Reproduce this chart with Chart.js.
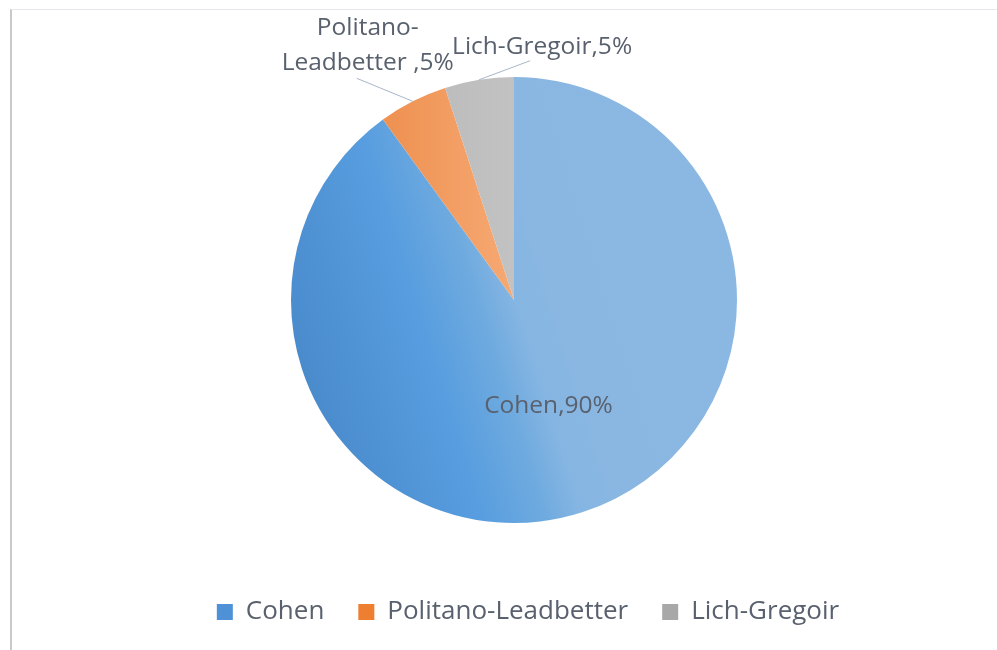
<!DOCTYPE html>
<html>
<head>
<meta charset="utf-8">
<script src="https://cdn.jsdelivr.net/npm/chart.js@4.4.0/dist/chart.umd.min.js"></script>
<style>
    html, body { margin: 0; padding: 0; background: #fff; }
    .frame {
        position: absolute; left: 10px; top: 9px; width: 987px; height: 641px;
        border-left: 2px solid #c9c9cc; border-top: 1px solid #e6e8ee; box-sizing: border-box;
    }
    .chart-box { position: absolute; left: 12px; top: 10px; width: 985px; height: 640px; }
</style>
</head>
<body>
<div class="frame"></div>
<div class="chart-box"><canvas id="pieChart"></canvas></div>
<script>
// Data
const categories = ['Cohen', 'Politano-Leadbetter', 'Lich-Gregoir'];
const shares = [90, 5, 5];
const labelNames = [['Cohen'], ['Politano-', 'Leadbetter '], ['Lich-Gregoir']];

const textColor = '#59616e';
const fontFamily = "'Open Sans', 'Noto Sans', sans-serif";
const pieRadius = 223;

// slice fills (slanted gradient, dark at left) and flat legend swatches
const sliceStops = [
    [[0, '#4a8bcc'], [0.28, '#579ddf'], [0.42, '#6eaadf'], [0.5, '#85b5e2'], [0.6, '#8ab7e2'], [1, '#8bb8e3']],
    [[0, '#ee9050'], [1, '#f6a973']],
    [[0, '#b8b8b8'], [1, '#c2c2c2']]
];
const swatchColors = ['#4f91d7', '#ef7f30', '#a8a8a8'];
const gradDir = [0.955, -0.297];

function sliceFill(context) {
    const chart = context.chart;
    const area = chart.chartArea;
    if (!area) return swatchColors[context.dataIndex];
    const cx = (area.left + area.right) / 2;
    const cy = (area.top + area.bottom) / 2;
    let g;
    if (context.dataIndex === 0) {
        const dx = gradDir[0] * pieRadius, dy = gradDir[1] * pieRadius;
        g = chart.ctx.createLinearGradient(cx - dx, cy - dy, cx + dx, cy + dy);
    } else {
        // small slices near the top: gradient over their own width
        g = chart.ctx.createLinearGradient(cx - pieRadius * 0.6, 0, cx, 0);
    }
    sliceStops[context.dataIndex].forEach(s => g.addColorStop(s[0], s[1]));
    return g;
}

// label placement: inside slice at fraction of radius, or offset from arc midpoint
const labelPlacement = [
    { inside: true, r: 0.5 },
    { dx: -45, dy: -73, lineGap: 35, line: [-56, -23] },
    { dx: 63, dy: -33, lineGap: 35, line: [51, -19] }
];

const sliceLabels = {
    id: 'sliceLabels',
    afterDatasetsDraw(chart) {
        const ctx = chart.ctx;
        const total = shares.reduce((a, b) => a + b, 0);
        ctx.save();
        ctx.font = "24.5px " + fontFamily;
        ctx.textAlign = 'center';
        ctx.textBaseline = 'middle';
        chart.getDatasetMeta(0).data.forEach((arc, i) => {
            const mid = (arc.startAngle + arc.endAngle) / 2;
            const pct = Math.round(shares[i] / total * 100) + '%';
            const lines = labelNames[i].slice();
            lines[lines.length - 1] += ',' + pct;
            const p = labelPlacement[i];
            if (p.inside) {
                const r = arc.outerRadius * p.r;
                ctx.fillStyle = textColor;
                ctx.fillText(lines[0], arc.x + Math.cos(mid) * r, arc.y + Math.sin(mid) * r);
                return;
            }
            const ex = arc.x + Math.cos(mid) * arc.outerRadius;
            const ey = arc.y + Math.sin(mid) * arc.outerRadius;
            ctx.strokeStyle = '#a9b6c8';
            ctx.lineWidth = 1;
            ctx.beginPath();
            ctx.moveTo(ex, ey);
            ctx.lineTo(ex + p.line[0], ey + p.line[1]);
            ctx.stroke();
            ctx.fillStyle = textColor;
            lines.forEach((t, k) => {
                ctx.fillText(t, ex + p.dx, ey + p.dy + k * p.lineGap);
            });
        });
        ctx.restore();
    }
};

const ctx = document.getElementById('pieChart').getContext('2d');
new Chart(ctx, {
    type: 'pie',
    data: {
        labels: categories,
        datasets: [{
            data: shares,
            backgroundColor: sliceFill,
            borderWidth: 0,
            radius: pieRadius
        }]
    },
    options: {
        responsive: true,
        maintainAspectRatio: false,
        animation: false,
        layout: {
            padding: { top: 25, bottom: 15, left: 47, right: 0 }
        },
        plugins: {
            // empty spacer on the right so the legend sits a little right of the pie centre
            title: {
                display: true,
                position: 'right',
                fullSize: false,
                text: ' ',
                font: { size: 8, lineHeight: 1 },
                padding: { top: 10, bottom: 10 }
            },
            legend: {
                position: 'bottom',
                labels: {
                    color: textColor,
                    font: { family: fontFamily, size: 26 },
                    boxWidth: 16,
                    boxHeight: 16,
                    padding: 34,
                    generateLabels: function(chart) {
                        return categories.map((c, i) => ({
                            text: c,
                            fillStyle: swatchColors[i],
                            strokeStyle: swatchColors[i],
                            lineWidth: 0,
                            fontColor: textColor,
                            index: i
                        }));
                    }
                }
            },
            tooltip: { enabled: false }
        }
    },
    plugins: [sliceLabels]
});
</script>
</body>
</html>
